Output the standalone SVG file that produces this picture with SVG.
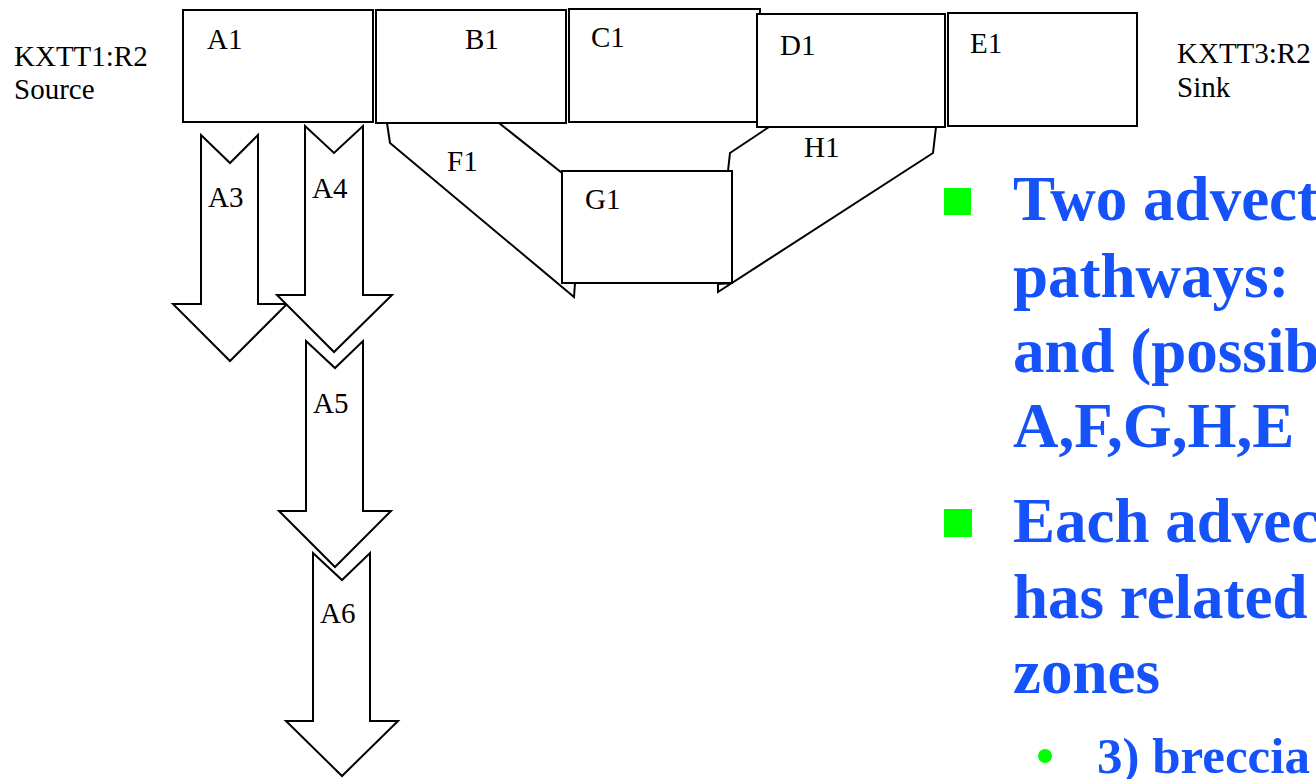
<svg xmlns="http://www.w3.org/2000/svg" width="1316" height="779" viewBox="0 0 1316 779">
<style>
.box{fill:#fff;stroke:#000;stroke-width:2}
.conn{fill:#fff;stroke:#000;stroke-width:2;stroke-linejoin:miter}
.arr{fill:#fff;stroke:#000;stroke-width:2;stroke-linejoin:miter}
.lbl{font-family:"Liberation Serif","Times New Roman",serif;font-size:29px;fill:#000}
.big{font-family:"Liberation Serif","Times New Roman",serif;font-weight:bold;font-size:63px;fill:#1652FA}
.sub{font-family:"Liberation Serif","Times New Roman",serif;font-weight:bold;font-size:51px;fill:#1652FA}
.bul{fill:#00FF00}
</style>
<rect width="1316" height="779" fill="#fff"/>
<g id="connectors">
  <g id="F1">
    <polygon class="conn" points="499,123 562,173 562,283 575,283 574,297 390,143 387,123"/>
    <text class="lbl" x="447" y="171">F1</text>
  </g>
  <g id="H1">
    <polygon class="conn" points="769,127 730,153 728,171 732,171 732,283 718,284 718,292 933,153 936,127"/>
    <text class="lbl" x="804" y="157">H1</text>
  </g>
</g>
<g id="source-label">
  <text class="lbl" x="14" y="66">KXTT1:R2</text>
  <text class="lbl" x="14" y="99">Source</text>
</g>
<g id="sink-label">
  <text class="lbl" x="1177" y="63">KXTT3:R2</text>
  <text class="lbl" x="1177" y="97">Sink</text>
</g>
<g id="A1">
  <rect class="box" x="183" y="10" width="190" height="112"/>
  <text class="lbl" x="207" y="49">A1</text>
</g>
<g id="B1">
  <rect class="box" x="376" y="10" width="190" height="113"/>
  <text class="lbl" x="465" y="49">B1</text>
</g>
<g id="C1">
  <rect class="box" x="569" y="9" width="191" height="113"/>
  <text class="lbl" x="591" y="47">C1</text>
</g>
<g id="D1">
  <rect class="box" x="757" y="14" width="188" height="113"/>
  <text class="lbl" x="780" y="55">D1</text>
</g>
<g id="E1">
  <rect class="box" x="948" y="13" width="189" height="113"/>
  <text class="lbl" x="970" y="53">E1</text>
</g>
<g id="G1">
  <rect class="box" x="562" y="171" width="170" height="112"/>
  <text class="lbl" x="585" y="209">G1</text>
</g>
<g id="A3">
  <polygon class="arr" points="201,135 230,163 258,135 258,304 287,304 230,361 173,304 201,304"/>
  <text class="lbl" x="208" y="207">A3</text>
</g>
<g id="A4">
  <polygon class="arr" points="305,126 334,153 363,126 363,295 392,295 334,352 277,295 305,295"/>
  <text class="lbl" x="312" y="198">A4</text>
</g>
<g id="A5">
  <polygon class="arr" points="306,341 335,368 363,341 363,511 391,511 335,567 279,511 306,511"/>
  <text class="lbl" x="313" y="413">A5</text>
</g>
<g id="A6">
  <polygon class="arr" points="313,553 342,580 370,553 370,721 398,721 342,776 286,721 313,721"/>
  <text class="lbl" x="320" y="623">A6</text>
</g>
<g id="bullets">
  <rect class="bul" x="944" y="188" width="27" height="27"/>
  <text class="big" x="1013" y="220">Two advect</text>
  <text class="big" x="1013" y="297">pathways:</text>
  <text class="big" x="1013" y="372">and (possib</text>
  <text class="big" x="1013" y="447">A,F,G,H,E</text>
  <rect class="bul" x="944" y="509" width="28" height="28"/>
  <text class="big" x="1013" y="542">Each advec</text>
  <text class="big" x="1013" y="618">has related</text>
  <text class="big" x="1013" y="693">zones</text>
  <circle class="bul" cx="1045" cy="756" r="7"/>
  <text class="sub" x="1097" y="773">3) breccia</text>
</g>
</svg>
